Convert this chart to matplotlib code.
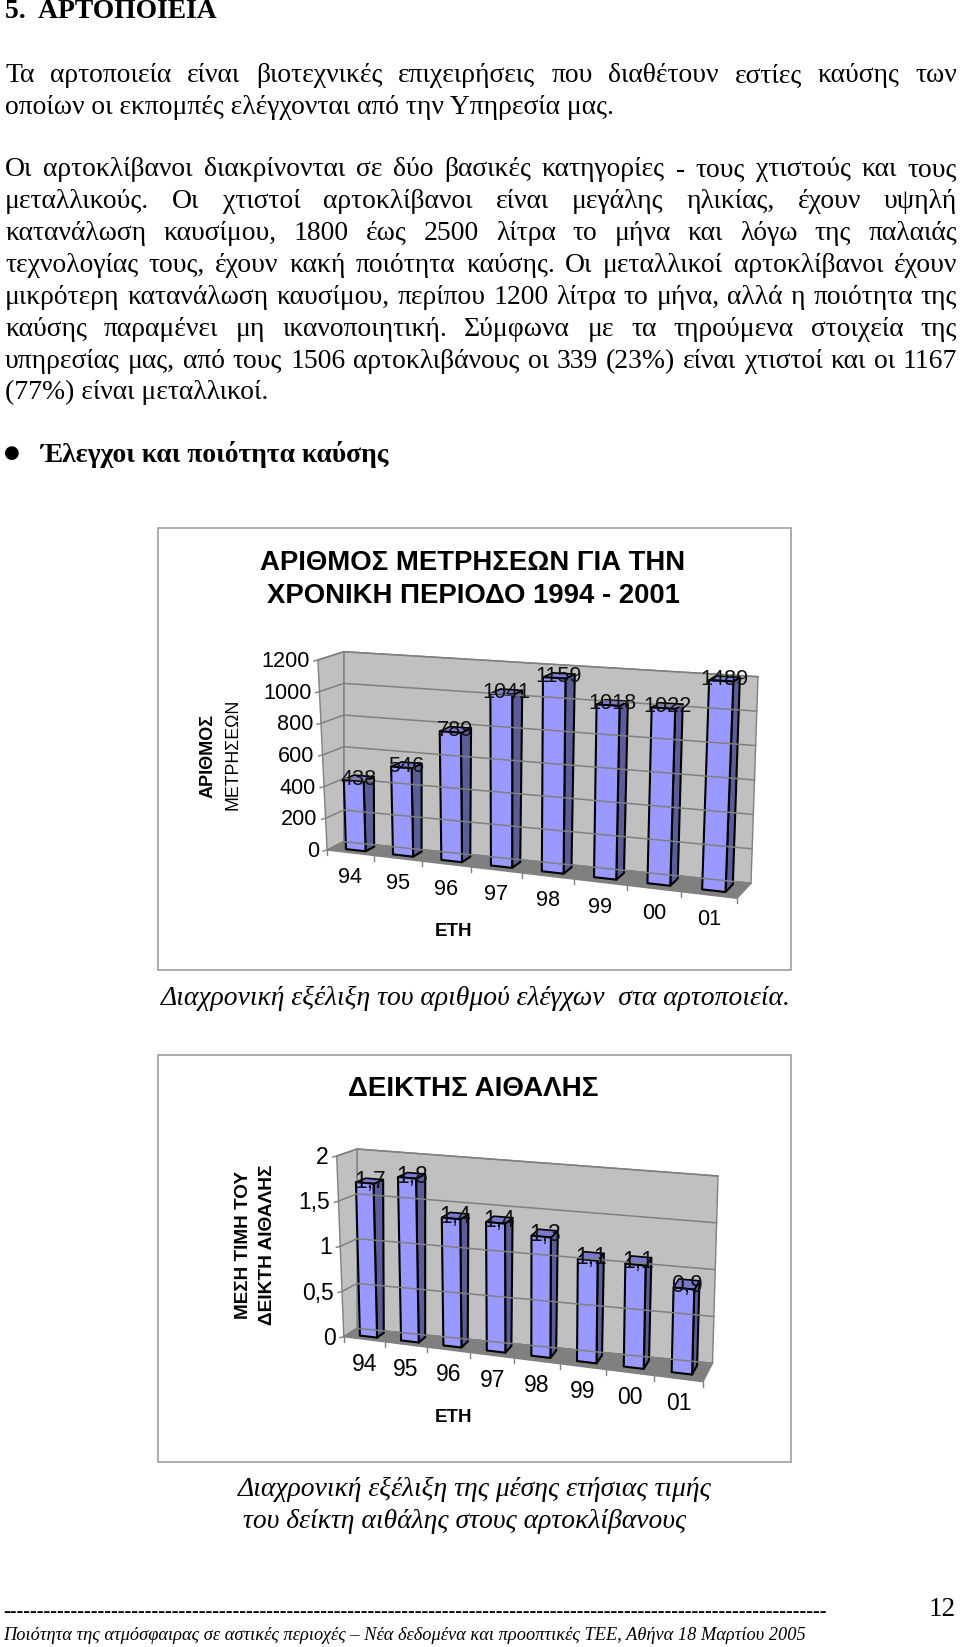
import numpy as np
import matplotlib
matplotlib.use('Agg')
import matplotlib.pyplot as plt
from matplotlib.patches import Polygon, Rectangle

years = ['94', '95', '96', '97', '98', '99', '00', '01']
measure_counts = [438, 546, 789, 1041, 1159, 1018, 1022, 1489]
measure_ticks = [0, 200, 400, 600, 800, 1000, 1200]
soot_index = [1.7, 1.8, 1.4, 1.4, 1.3, 1.1, 1.1, 0.9]
soot_labels = ['1,7', '1,8', '1,4', '1,4', '1,3', '1,1', '1,1', '0,9']
soot_ticks = [0, 0.5, 1, 1.5, 2]
soot_tick_labels = ['0', '0,5', '1', '1,5', '2']

heading = '5.  ΑΡΤΟΠΟΙΕΙΑ'
subheading = 'Έλεγχοι και ποιότητα καύσης'
# (text, justified, baseline in px)
body_lines = [
    ('Τα αρτοποιεία είναι βιοτεχνικές επιχειρήσεις που διαθέτουν εστίες καύσης των', True, 82.5),
    ('οποίων οι εκπομπές ελέγχονται από την Υπηρεσία μας.', False, 114),
    ('Οι αρτοκλίβανοι διακρίνονται σε δύο βασικές κατηγορίες - τους χτιστούς και τους', True, 176.5),
    ('μεταλλικούς. Οι χτιστοί αρτοκλίβανοι είναι μεγάλης ηλικίας, έχουν υψηλή', True, 208.5),
    ('κατανάλωση καυσίμου, 1800 έως 2500 λίτρα το μήνα και λόγω της παλαιάς', True, 240),
    ('τεχνολογίας τους, έχουν κακή ποιότητα καύσης. Οι μεταλλικοί αρτοκλίβανοι έχουν', True, 272),
    ('μικρότερη κατανάλωση καυσίμου, περίπου 1200 λίτρα το μήνα, αλλά η ποιότητα της', True, 304),
    ('καύσης παραμένει μη ικανοποιητική. Σύμφωνα με τα τηρούμενα στοιχεία της', True, 336),
    ('υπηρεσίας μας, από τους 1506 αρτοκλιβάνους οι 339 (23%) είναι χτιστοί και οι 1167', True, 368),
    ('(77%) είναι μεταλλικοί.', False, 399),
]

SERIF = 'Liberation Serif'
SANS = 'Liberation Sans'
BODY = 19.9

fig = plt.figure(figsize=(9.6, 16.47), dpi=100)
ax = fig.add_axes([0, 0, 1, 1])
ax.set_xlim(0, 960)
ax.set_ylim(1647, 0)
ax.axis('off')


def text_line(s, y, justified):
    if not justified:
        ax.text(5, y, s, family=SERIF, fontsize=BODY, va='baseline', color='black')
        return
    words = s.split(' ')
    r = fig.canvas.get_renderer()
    items = [ax.text(0, y, w, family=SERIF, fontsize=BODY, va='baseline', color='black') for w in words]
    widths = [t.get_window_extent(r).width for t in items]
    gap = (957 - 5 - sum(widths)) / (len(words) - 1)
    x = 5
    for t, w in zip(items, widths):
        t.set_x(x)
        x += w + gap


def make_project(corners, ymax):
    # trilinear mapping from (category, value, depth) to page pixels, with a little perspective on the categories
    corners = {k: np.array(v, dtype=float) for k, v in corners.items()}

    def project(u, v, d):
        t = u / 8.0
        t = t * (1 + 0.1 * (t - 1))
        h = v / ymax
        front_b = corners['fbl'] * (1 - t) + corners['fbr'] * t
        front_t = corners['ftl'] * (1 - t) + corners['ftr'] * t
        back_b = corners['bbl'] * (1 - t) + corners['bbr'] * t
        back_t = corners['btl'] * (1 - t) + corners['btr'] * t
        front = front_b * (1 - h) + front_t * h
        back = back_b * (1 - h) + back_t * h
        return front * (1 - d) + back * d

    return project


def bars_3d(corners, values, labels, ticks, tick_labels, ymax, size):
    p = make_project(corners, ymax)
    n = len(values)

    # walls and floor
    ax.add_patch(Polygon([p(0, 0, 1), p(n, 0, 1), p(n, ymax, 1), p(0, ymax, 1)], fc='#c0c0c0', ec='#808080', lw=1))
    ax.add_patch(Polygon([p(0, 0, 0), p(0, 0, 1), p(0, ymax, 1), p(0, ymax, 0)], fc='#c0c0c0', ec='#808080', lw=1))
    ax.add_patch(Polygon([p(0, 0, 0), p(n, 0, 0), p(n, 0, 1), p(0, 0, 1)], fc='#808080', ec='#808080', lw=1))

    for v, lab in zip(ticks, tick_labels):
        pts = np.array([p(0, v, 0), p(0, v, 1), p(n, v, 1)])
        ax.plot(pts[:, 0], pts[:, 1], color='#808080', lw=1.1)
        a = p(0, v, 0)
        ax.plot([a[0] - 4, a[0]], [a[1] + 1, a[1]], color='#808080', lw=1)
        ax.text(a[0] - 8, a[1] + 1.5, lab, family=SANS, fontsize=size, ha='right', va='center', color='black')

    for i in range(n + 1):
        a = p(i, 0, 0)
        ax.plot([a[0], a[0]], [a[1], a[1] + 5], color='#808080', lw=1)

    u0, u1, d0, d1 = 0.30, 0.72, 0.30, 0.82
    for i, val in enumerate(values):
        top = min(val, ymax)
        a0, a1 = i + u0, i + u1
        front = [p(a0, 0, d0), p(a1, 0, d0), p(a1, top, d0), p(a0, top, d0)]
        side = [p(a1, 0, d0), p(a1, 0, d1), p(a1, top, d1), p(a1, top, d0)]
        cap = [p(a0, top, d0), p(a1, top, d0), p(a1, top, d1), p(a0, top, d1)]
        ax.add_patch(Polygon(side, fc='#5c5c99', ec='black', lw=1.5, joinstyle='round'))
        ax.add_patch(Polygon(cap, fc='#7a7acc', ec='black', lw=1.2, joinstyle='round'))
        ax.add_patch(Polygon(front, fc='#9999ff', ec='black', lw=1.5, joinstyle='round'))

    for i, val in enumerate(values):
        c = p(i + (u0 + u1) / 2, min(val, ymax), (d0 + d1) / 2)
        ax.text(c[0], c[1] + 1, labels[i], family=SANS, fontsize=size, ha='center', va='center', color='#111111')
        f = p(i + 0.5, 0, 0)
        ax.text(f[0], f[1] + 25, years[i], family=SANS, fontsize=size, ha='center', va='center', color='black')


# page text
ax.text(5, 18.5, heading, family=SERIF, fontsize=BODY, fontweight='bold', va='baseline', color='black')
for s, justified, y in body_lines:
    text_line(s, y, justified)
ax.text(12, 453, '●', family='DejaVu Sans', fontsize=13, ha='center', va='center', color='black')
ax.text(40, 462.5, subheading, family=SERIF, fontsize=BODY, fontweight='bold', va='baseline', color='black')

# first chart
ax.add_patch(Rectangle((157.5, 528), 633.5, 442, fc='white', ec='#a6a6a6', lw=1.3))
ax.text(473, 563, 'ΑΡΙΘΜΟΣ ΜΕΤΡΗΣΕΩΝ ΓΙΑ ΤΗΝ', family=SANS, fontsize=19.8, fontweight='bold', ha='center', va='center')
ax.text(473, 596, 'ΧΡΟΝΙΚΗ ΠΕΡΙΟΔΟ 1994 - 2001', family=SANS, fontsize=19.8, fontweight='bold', ha='center', va='center')
ax.text(208, 756, 'ΑΡΙΘΜΟΣ', family=SANS, fontsize=13, fontweight='bold', rotation=90, ha='center', va='center')
ax.text(233, 754, 'ΜΕΤΡΗΣΕΩΝ', family=SANS, fontsize=12.8, rotation=90, ha='center', va='center')
ax.text(454, 931, 'ΕΤΗ', family=SANS, fontsize=13.5, fontweight='bold', ha='center', va='center')
bars_3d({'fbl': (327.1, 850), 'fbr': (737, 898.3), 'bbl': (343.8, 841.7), 'bbr': (751, 883.3),
         'btl': (343.8, 651.7), 'btr': (758, 676.7), 'ftl': (317.9, 660), 'ftr': (746, 685)},
        measure_counts, [str(v) for v in measure_counts], measure_ticks, [str(v) for v in measure_ticks], 1200, 15.6)
ax.text(476, 1005, 'Διαχρονική εξέλιξη του αριθμού ελέγχων  στα αρτοποιεία.', family=SERIF, fontsize=BODY,
        style='italic', ha='center', va='baseline')

# second chart
ax.add_patch(Rectangle((157.5, 1055), 633.5, 407, fc='white', ec='#a6a6a6', lw=1.3))
ax.text(473, 1089, 'ΔΕΙΚΤΗΣ ΑΙΘΑΛΗΣ', family=SANS, fontsize=20, fontweight='bold', ha='center', va='center')
ax.text(243, 1245, 'ΜΕΣΗ ΤΙΜΗ ΤΟΥ', family=SANS, fontsize=13.6, fontweight='bold', rotation=90, ha='center', va='center')
ax.text(268, 1245, 'ΔΕΙΚΤΗ ΑΙΘΑΛΗΣ', family=SANS, fontsize=13.75, fontweight='bold', rotation=90, ha='center', va='center')
ax.text(453, 1417, 'ΕΤΗ', family=SANS, fontsize=13.5, fontweight='bold', ha='center', va='center')
bars_3d({'fbl': (343.8, 1336.7), 'fbr': (703, 1381.7), 'bbl': (357, 1328.3), 'bbr': (712.5, 1363.3),
         'btl': (357, 1149), 'btr': (718, 1176), 'ftl': (336.7, 1156), 'ftr': (708, 1191.7)},
        soot_index, soot_labels, soot_ticks, soot_tick_labels, 2, 16.5)
ax.text(475, 1496, 'Διαχρονική εξέλιξη της μέσης ετήσιας τιμής', family=SERIF, fontsize=BODY, style='italic', ha='center', va='baseline')
ax.text(465, 1528, 'του δείκτη αιθάλης στους αρτοκλίβανους', family=SERIF, fontsize=BODY, style='italic', ha='center', va='baseline')

# footer
ax.text(3, 1612, '-' * 122, family=SERIF, fontsize=14.4, fontweight='bold', va='center')
ax.text(956, 1610, '12', family=SERIF, fontsize=19.5, ha='right', va='center')
ax.text(3, 1636, 'Ποιότητα της ατμόσφαιρας σε αστικές περιοχές – Νέα δεδομένα και προοπτικές ΤΕΕ, Αθήνα 18 Μαρτίου 2005',
        family=SERIF, fontsize=13.2, style='italic', va='center')

fig.savefig('out.png', dpi=100)
